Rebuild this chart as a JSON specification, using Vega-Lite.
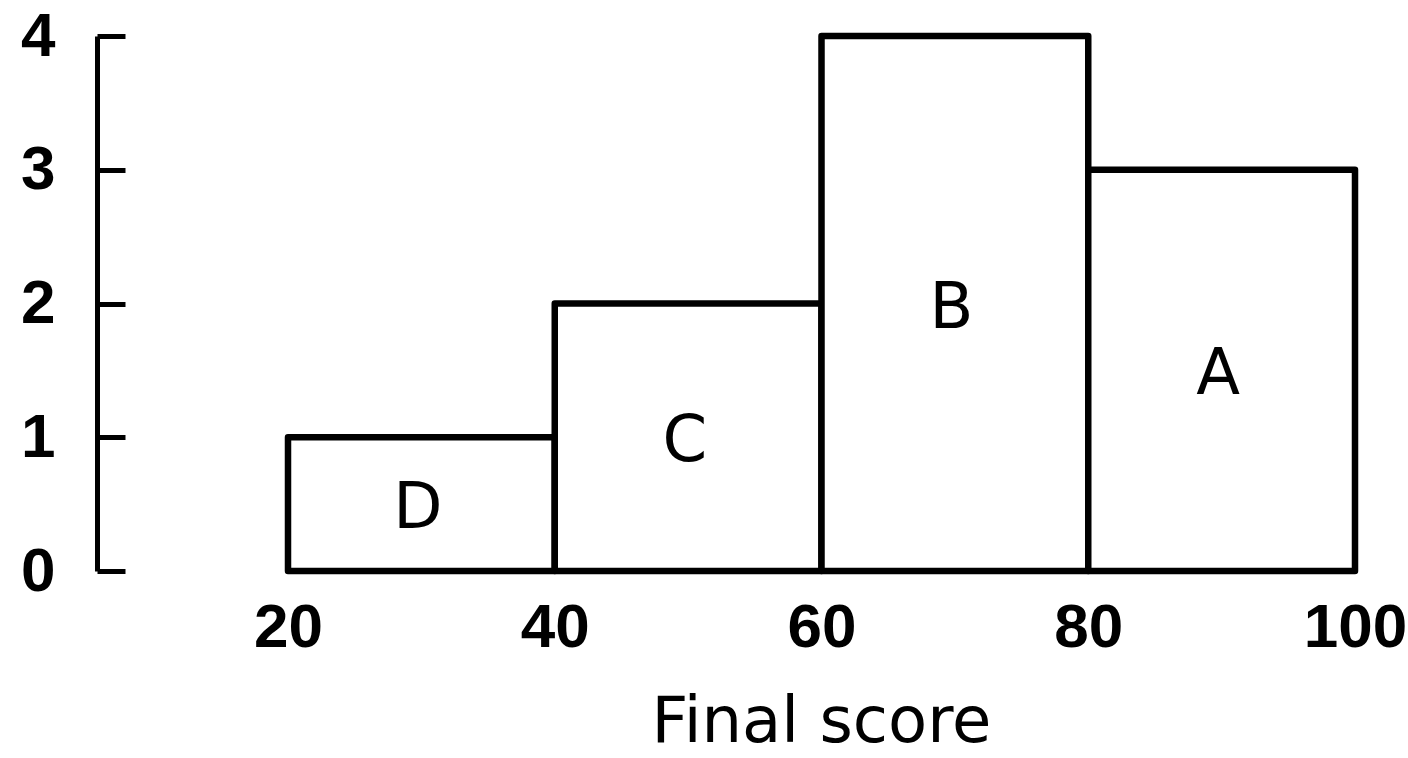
{
  "$schema": "https://vega.github.io/schema/vega-lite/v6.json",
  "width": 1067,
  "height": 535,
  "autosize": {"type": "none"},
  "padding": {"left": 288, "top": 36, "right": 53, "bottom": 187},
  "background": "white",
  "config": {"view": {"stroke": null}},
  "data": {
    "values": [
      {"grade": "D", "start": 20, "end": 40, "count": 1},
      {"grade": "C", "start": 40, "end": 60, "count": 2},
      {"grade": "B", "start": 60, "end": 80, "count": 4},
      {"grade": "A", "start": 80, "end": 100, "count": 3}
    ]
  },
  "encoding": {
    "x": {
      "field": "start", "type": "quantitative",
      "scale": {"domain": [20, 100], "nice": false, "zero": false},
      "axis": {
        "title": "Final score", "values": [20, 40, 60, 80, 100],
        "ticks": false, "domain": false, "grid": false,
        "labelFont": "Liberation Sans", "labelFontWeight": "bold", "labelFontSize": 62,
        "labelPadding": 26, "labelColor": "black", "labelFlush": false, "labelOverlap": false,
        "titleFont": "DejaVu Sans", "titleFontSize": 64, "titleFontWeight": "normal",
        "titleColor": "black", "titleY": 170, "titleX": 533, "titleBaseline": "alphabetic"
      }
    }
  },
  "layer": [
    {
      "mark": {"type": "bar", "fill": "white", "stroke": "black", "strokeWidth": 6.5, "strokeJoin": "round"},
      "encoding": {
        "x2": {"field": "end"},
        "y": {
          "field": "count", "type": "quantitative",
          "scale": {"domain": [0, 4], "nice": false},
          "axis": {
            "title": null, "values": [0, 1, 2, 3, 4], "offset": 191,
            "domainColor": "black", "domainWidth": 5,
            "tickColor": "black", "tickWidth": 5, "tickSize": -28,
            "labelPadding": 70, "labelFont": "Liberation Sans", "labelFontWeight": "bold",
            "labelFontSize": 62, "labelColor": "black", "grid": false, "labelFlush": false
          }
        },
        "y2": {"datum": 0}
      }
    },
    {
      "mark": {"type": "text", "font": "DejaVu Sans", "fontSize": 64, "dx": 130, "dy": 5, "baseline": "middle", "align": "center", "color": "black"},
      "encoding": {
        "y": {"field": "count", "type": "quantitative", "scale": {"domain": [0, 8], "nice": false}, "axis": null},
        "text": {"field": "grade"}
      }
    }
  ],
  "resolve": {"scale": {"y": "independent"}}
}
